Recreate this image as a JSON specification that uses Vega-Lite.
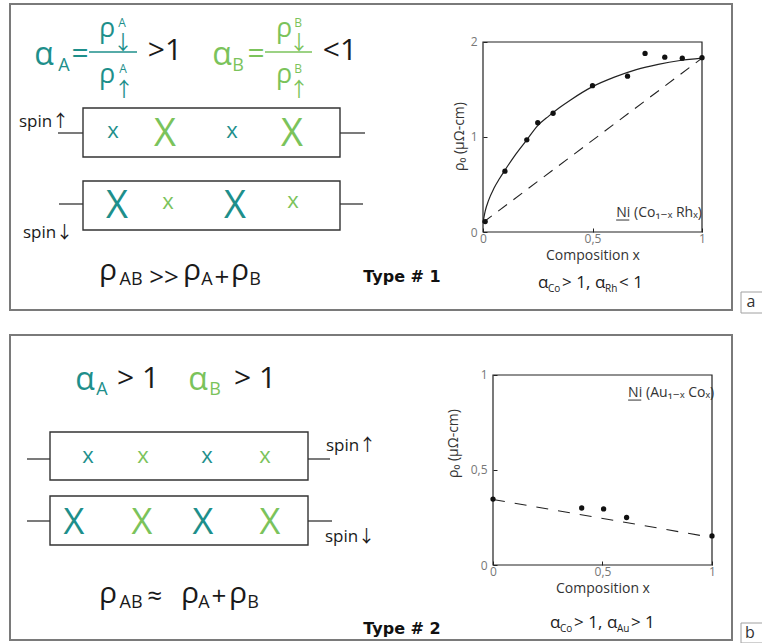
{
  "$schema": "https://vega.github.io/schema/vega-lite/v6.json",
  "padding": 0,
  "background": "white",
  "columns": 2,
  "spacing": 0,
  "bounds": "flush",
  "align": "none",
  "config": {"font": "Open Sans, Liberation Sans, DejaVu Sans", "view": {"stroke": null}},
  "datasets": {
    "sa_rect": [
      {"x": 10, "x2": 732, "y": 4, "y2": 310, "role": "border"},
      {"x": 83, "x2": 340, "y": 108, "y2": 157, "role": "box"},
      {"x": 83, "x2": 340, "y": 181, "y2": 230, "role": "box"},
      {"x": 741, "x2": 772, "y": 292, "y2": 313, "role": "tag"}
    ],
    "sa_rule": [
      {"x": 58, "x2": 83, "y": 133, "role": "lead", "sp": "none"},
      {"x": 340, "x2": 365, "y": 133, "role": "lead", "sp": "none"},
      {"x": 59, "x2": 83, "y": 204, "role": "lead", "sp": "none"},
      {"x": 340, "x2": 363, "y": 204, "role": "lead", "sp": "none"},
      {"x": 89, "x2": 137, "y": 52, "role": "bar", "sp": "A"},
      {"x": 265, "x2": 312, "y": 52, "role": "bar", "sp": "B"}
    ],
    "sa_text": [
      {"x": 44, "y": 65, "t": "α", "role": "alpha", "sp": "A"},
      {"x": 64, "y": 71, "t": "A", "role": "sub", "sp": "A"},
      {"x": 80, "y": 63, "t": "=", "role": "rel", "sp": "A"},
      {"x": 107, "y": 37, "t": "ρ", "role": "rho", "sp": "A"},
      {"x": 122, "y": 27, "t": "A", "role": "sup", "sp": "A"},
      {"x": 123, "y": 50, "t": "↓", "role": "arrow", "sp": "A"},
      {"x": 107, "y": 83, "t": "ρ", "role": "rho", "sp": "A"},
      {"x": 123, "y": 73, "t": "A", "role": "sup", "sp": "A"},
      {"x": 124, "y": 97, "t": "↑", "role": "arrow", "sp": "A"},
      {"x": 165, "y": 60, "t": ">1", "role": "rel", "sp": "none"},
      {"x": 222, "y": 65, "t": "α", "role": "alpha", "sp": "B"},
      {"x": 238, "y": 71, "t": "B", "role": "sub", "sp": "B"},
      {"x": 256, "y": 63, "t": "=", "role": "rel", "sp": "B"},
      {"x": 284, "y": 37, "t": "ρ", "role": "rho", "sp": "B"},
      {"x": 298, "y": 27, "t": "B", "role": "sup", "sp": "B"},
      {"x": 299, "y": 50, "t": "↓", "role": "arrow", "sp": "B"},
      {"x": 284, "y": 83, "t": "ρ", "role": "rho", "sp": "B"},
      {"x": 298, "y": 73, "t": "B", "role": "sup", "sp": "B"},
      {"x": 299, "y": 97, "t": "↑", "role": "arrow", "sp": "B"},
      {"x": 340, "y": 60, "t": "<1", "role": "rel", "sp": "none"},
      {"x": 44, "y": 127, "t": "spin↑", "role": "spin", "sp": "none"},
      {"x": 48, "y": 238, "t": "spin↓", "role": "spin", "sp": "none"},
      {"x": 113, "y": 138, "t": "x", "role": "small", "sp": "A"},
      {"x": 165, "y": 146, "t": "X", "role": "large", "sp": "B"},
      {"x": 232, "y": 138, "t": "x", "role": "small", "sp": "A"},
      {"x": 292, "y": 146, "t": "X", "role": "large", "sp": "B"},
      {"x": 117, "y": 218, "t": "X", "role": "large", "sp": "A"},
      {"x": 168, "y": 209, "t": "x", "role": "small", "sp": "B"},
      {"x": 235, "y": 218, "t": "X", "role": "large", "sp": "A"},
      {"x": 293, "y": 208, "t": "x", "role": "small", "sp": "B"},
      {"x": 108, "y": 280, "t": "ρ", "role": "rho2", "sp": "none"},
      {"x": 131, "y": 285, "t": "AB", "role": "sub", "sp": "none"},
      {"x": 164, "y": 286, "t": ">>", "role": "op", "sp": "none"},
      {"x": 192, "y": 280, "t": "ρ", "role": "rho2", "sp": "none"},
      {"x": 207, "y": 285, "t": "A", "role": "sub", "sp": "none"},
      {"x": 222, "y": 286, "t": "+", "role": "op", "sp": "none"},
      {"x": 240, "y": 280, "t": "ρ", "role": "rho2", "sp": "none"},
      {"x": 255, "y": 285, "t": "B", "role": "sub", "sp": "none"},
      {"x": 751, "y": 307, "t": "a", "role": "tag", "sp": "none"},
      {"x": 402, "y": 282, "t": "Type # 1", "role": "type", "sp": "none"}
    ],
    "sb_rect": [
      {"x": 10, "x2": 732, "y": 335, "y2": 640, "role": "border"},
      {"x": 50, "x2": 308, "y": 432, "y2": 480, "role": "box"},
      {"x": 50, "x2": 308, "y": 496, "y2": 545, "role": "box"},
      {"x": 741, "x2": 772, "y": 623, "y2": 643, "role": "tag"}
    ],
    "sb_rule": [
      {"x": 27, "x2": 50, "y": 459, "role": "lead", "sp": "none"},
      {"x": 308, "x2": 330, "y": 459, "role": "lead", "sp": "none"},
      {"x": 27, "x2": 50, "y": 521, "role": "lead", "sp": "none"},
      {"x": 308, "x2": 332, "y": 521, "role": "lead", "sp": "none"}
    ],
    "sb_text": [
      {"x": 85, "y": 390, "t": "α", "role": "alpha", "sp": "A"},
      {"x": 102, "y": 395, "t": "A", "role": "sub", "sp": "A"},
      {"x": 138, "y": 388, "t": "> 1", "role": "rel", "sp": "none"},
      {"x": 198, "y": 390, "t": "α", "role": "alpha", "sp": "B"},
      {"x": 215, "y": 395, "t": "B", "role": "sub", "sp": "B"},
      {"x": 255, "y": 388, "t": "> 1", "role": "rel", "sp": "none"},
      {"x": 351, "y": 451, "t": "spin↑", "role": "spin", "sp": "none"},
      {"x": 350, "y": 542, "t": "spin↓", "role": "spin", "sp": "none"},
      {"x": 88, "y": 463, "t": "x", "role": "small", "sp": "A"},
      {"x": 143, "y": 463, "t": "x", "role": "small", "sp": "B"},
      {"x": 207, "y": 463, "t": "x", "role": "small", "sp": "A"},
      {"x": 265, "y": 463, "t": "x", "role": "small", "sp": "B"},
      {"x": 74, "y": 534, "t": "X", "role": "large", "sp": "A"},
      {"x": 142, "y": 534, "t": "X", "role": "large", "sp": "B"},
      {"x": 203, "y": 534, "t": "X", "role": "large", "sp": "A"},
      {"x": 270, "y": 534, "t": "X", "role": "large", "sp": "B"},
      {"x": 108, "y": 603, "t": "ρ", "role": "rho2", "sp": "none"},
      {"x": 131, "y": 608, "t": "AB", "role": "sub", "sp": "none"},
      {"x": 155, "y": 605, "t": "≈", "role": "op", "sp": "none"},
      {"x": 190, "y": 603, "t": "ρ", "role": "rho2", "sp": "none"},
      {"x": 204, "y": 608, "t": "A", "role": "sub", "sp": "none"},
      {"x": 219, "y": 605, "t": "+", "role": "op", "sp": "none"},
      {"x": 238, "y": 603, "t": "ρ", "role": "rho2", "sp": "none"},
      {"x": 253, "y": 608, "t": "B", "role": "sub", "sp": "none"},
      {"x": 750, "y": 638, "t": "b", "role": "tag", "sp": "none"},
      {"x": 402, "y": 634, "t": "Type # 2", "role": "type", "sp": "none"}
    ],
    "ca_pts": [
      {"x": 0.01, "y": 0.11}, {"x": 0.1, "y": 0.64}, {"x": 0.2, "y": 0.97},
      {"x": 0.25, "y": 1.15}, {"x": 0.32, "y": 1.25}, {"x": 0.5, "y": 1.54},
      {"x": 0.66, "y": 1.64}, {"x": 0.74, "y": 1.88}, {"x": 0.83, "y": 1.84},
      {"x": 0.91, "y": 1.83}, {"x": 1.0, "y": 1.835}
    ],
    "ca_fit": [
      {"x": 0, "y": 0.1}, {"x": 0.01, "y": 0.22}, {"x": 0.025, "y": 0.33},
      {"x": 0.05, "y": 0.46}, {"x": 0.075, "y": 0.56}, {"x": 0.1, "y": 0.65},
      {"x": 0.15, "y": 0.82}, {"x": 0.2, "y": 0.97}, {"x": 0.25, "y": 1.12},
      {"x": 0.3, "y": 1.22}, {"x": 0.35, "y": 1.31}, {"x": 0.4, "y": 1.39},
      {"x": 0.5, "y": 1.53}, {"x": 0.6, "y": 1.63}, {"x": 0.7, "y": 1.71},
      {"x": 0.8, "y": 1.765}, {"x": 0.9, "y": 1.805}, {"x": 1.0, "y": 1.83}
    ],
    "ca_ref": [{"x": 0, "y": 0.1}, {"x": 1, "y": 1.83}],
    "ca_frame": [{"x": 0, "x2": 1, "y": 0, "y2": 2}],
    "ca_ul": [{"x": 0.608, "x2": 0.668, "y": 0.126}],
    "ca_text": [
      {"x": 0.608, "y": 0.158, "t": "Ni", "role": "ann"},
      {"x": 0.69, "y": 0.158, "t": "(Co₁₋ₓ Rhₓ)", "role": "ann"},
      {"x": 0.251, "y": -0.589, "t": "α", "role": "cond"},
      {"x": 0.297, "y": -0.632, "t": "Co", "role": "csub"},
      {"x": 0.361, "y": -0.589, "t": "> 1,", "role": "cond"},
      {"x": 0.511, "y": -0.589, "t": "α", "role": "cond"},
      {"x": 0.557, "y": -0.632, "t": "Rh", "role": "csub"},
      {"x": 0.621, "y": -0.589, "t": "< 1", "role": "cond"}
    ],
    "cb_pts": [
      {"x": 0.0, "y": 0.347}, {"x": 0.405, "y": 0.30}, {"x": 0.505, "y": 0.295},
      {"x": 0.61, "y": 0.25}, {"x": 1.0, "y": 0.153}
    ],
    "cb_ref": [{"x": 0, "y": 0.345}, {"x": 1, "y": 0.145}],
    "cb_frame": [{"x": 0, "x2": 1, "y": 0, "y2": 1}],
    "cb_ul": [{"x": 0.617, "x2": 0.677, "y": 0.868}],
    "cb_text": [
      {"x": 0.617, "y": 0.884, "t": "Ni", "role": "ann"},
      {"x": 0.699, "y": 0.884, "t": "(Au₁₋ₓ Coₓ)", "role": "ann"},
      {"x": 0.26, "y": -0.332, "t": "α", "role": "cond"},
      {"x": 0.306, "y": -0.353, "t": "Co", "role": "csub"},
      {"x": 0.37, "y": -0.332, "t": "> 1,", "role": "cond"},
      {"x": 0.521, "y": -0.332, "t": "α", "role": "cond"},
      {"x": 0.566, "y": -0.353, "t": "Au", "role": "csub"},
      {"x": 0.63, "y": -0.332, "t": "> 1", "role": "cond"}
    ]
  },
  "concat": [
    {
      "width": 483,
      "height": 322,
      "encoding": {
        "x": {"field": "x", "type": "quantitative", "scale": {"domain": [0, 483], "nice": false, "zero": false}, "axis": null},
        "y": {"field": "y", "type": "quantitative", "scale": {"domain": [0, 322], "nice": false, "zero": false, "reverse": true}, "axis": null},
        "color": {"field": "sp", "type": "nominal", "scale": {"domain": ["A", "B", "none"], "range": ["#1e8f8b", "#7bc35b", "#1a1a1a"]}, "legend": null}
      },
      "layer": [
        {"data": {"name": "sa_rect"}, "transform": [{"filter": "datum.role == 'border'"}], "mark": {"type": "rect", "filled": false, "strokeWidth": 2}, "encoding": {"x2": {"field": "x2"}, "y2": {"field": "y2"}, "color": {"value": "#7a7a7a"}}},
        {"data": {"name": "sa_rect"}, "transform": [{"filter": "datum.role == 'box'"}], "mark": {"type": "rect", "filled": false, "strokeWidth": 1.4}, "encoding": {"x2": {"field": "x2"}, "y2": {"field": "y2"}, "color": {"value": "#333333"}}},
        {"data": {"name": "sa_rect"}, "transform": [{"filter": "datum.role == 'tag'"}], "mark": {"type": "rect", "filled": false, "strokeWidth": 1}, "encoding": {"x2": {"field": "x2"}, "y2": {"field": "y2"}, "color": {"value": "#a0a0a0"}}},
        {"data": {"name": "sa_rule"}, "transform": [{"filter": "datum.role == 'lead'"}], "mark": {"type": "rule", "strokeWidth": 1.3}, "encoding": {"x2": {"field": "x2"}, "color": {"value": "#333333"}}},
        {"data": {"name": "sa_rule"}, "transform": [{"filter": "datum.role == 'bar'"}], "mark": {"type": "rule", "strokeWidth": 1.6}, "encoding": {"x2": {"field": "x2"}}},
        {"data": {"name": "sa_text"}, "transform": [{"filter": "datum.role == 'alpha'"}], "mark": {"type": "text", "align": "center", "baseline": "alphabetic", "fontSize": 32}, "encoding": {"text": {"field": "t"}}},
        {"data": {"name": "sa_text"}, "transform": [{"filter": "datum.role == 'sub'"}], "mark": {"type": "text", "align": "center", "baseline": "alphabetic", "fontSize": 18}, "encoding": {"text": {"field": "t"}}},
        {"data": {"name": "sa_text"}, "transform": [{"filter": "datum.role == 'rel' || datum.role == 'rho2'"}], "mark": {"type": "text", "align": "center", "baseline": "alphabetic", "fontSize": 30}, "encoding": {"text": {"field": "t"}}},
        {"data": {"name": "sa_text"}, "transform": [{"filter": "datum.role == 'rho'"}], "mark": {"type": "text", "align": "center", "baseline": "alphabetic", "fontSize": 27}, "encoding": {"text": {"field": "t"}}},
        {"data": {"name": "sa_text"}, "transform": [{"filter": "datum.role == 'sup'"}], "mark": {"type": "text", "align": "center", "baseline": "alphabetic", "fontSize": 12}, "encoding": {"text": {"field": "t"}}},
        {"data": {"name": "sa_text"}, "transform": [{"filter": "datum.role == 'arrow'"}], "mark": {"type": "text", "align": "center", "baseline": "alphabetic", "fontSize": 20, "font": "Noto Sans CJK JP, DejaVu Sans"}, "encoding": {"text": {"field": "t"}}},
        {"data": {"name": "sa_text"}, "transform": [{"filter": "datum.role == 'small'"}], "mark": {"type": "text", "align": "center", "baseline": "alphabetic", "fontSize": 22}, "encoding": {"text": {"field": "t"}}},
        {"data": {"name": "sa_text"}, "transform": [{"filter": "datum.role == 'large'"}], "mark": {"type": "text", "align": "center", "baseline": "alphabetic", "fontSize": 38}, "encoding": {"text": {"field": "t"}}},
        {"data": {"name": "sa_text"}, "transform": [{"filter": "datum.role == 'spin'"}], "mark": {"type": "text", "align": "center", "baseline": "alphabetic", "fontSize": 17, "font": "Open Sans, Noto Sans CJK JP"}, "encoding": {"text": {"field": "t"}}},
        {"data": {"name": "sa_text"}, "transform": [{"filter": "datum.role == 'op'"}], "mark": {"type": "text", "align": "center", "baseline": "alphabetic", "fontSize": 26}, "encoding": {"text": {"field": "t"}}},
        {"data": {"name": "sa_text"}, "transform": [{"filter": "datum.role == 'tag'"}], "mark": {"type": "text", "align": "center", "baseline": "alphabetic", "fontSize": 16}, "encoding": {"text": {"field": "t"}, "color": {"value": "#333333"}}},
        {"data": {"name": "sa_text"}, "transform": [{"filter": "datum.role == 'type'"}], "mark": {"type": "text", "align": "center", "baseline": "alphabetic", "fontSize": 16, "fontWeight": "bold", "font": "DejaVu Sans"}, "encoding": {"text": {"field": "t"}, "color": {"value": "#111111"}}}
      ]
    },
    {
      "width": 219,
      "height": 232,
      "encoding": {
        "x": {"field": "x", "type": "quantitative", "scale": {"domain": [0, 1], "nice": false, "zero": false},
          "axis": {"values": [0, 0.5, 1], "format": "~g", "labelExpr": "replace(datum.label, '.', ',')", "domain": false, "grid": false, "tickSize": -4, "tickColor": "#222222", "labelFlush": false, "labelPadding": 5, "labelFontSize": 12, "labelColor": "#777777", "title": "Composition x", "titleFontSize": 14, "titleFontWeight": "normal", "titleColor": "#333333", "titlePadding": 4}},
        "y": {"field": "y", "type": "quantitative", "scale": {"domain": [0, 2.4421], "nice": false, "zero": false},
          "axis": {"values": [0, 1, 2], "format": "~g", "labelExpr": "replace(datum.label, '.', ',')", "domain": false, "grid": false, "tickSize": -4, "tickColor": "#222222", "labelPadding": 10, "labelFontSize": 12, "labelColor": "#777777", "title": "ρ₀ (μΩ-cm)", "titleFontSize": 14, "titleFontWeight": "normal", "titleColor": "#333333", "titlePadding": 4, "titleY": 136}}
      },
      "layer": [
        {"data": {"name": "ca_frame"}, "mark": {"type": "rect", "filled": false, "strokeWidth": 1.2}, "encoding": {"x2": {"field": "x2"}, "y2": {"field": "y2"}, "color": {"value": "#222222"}}},
        {"data": {"name": "ca_ref"}, "mark": {"type": "line", "strokeWidth": 1.1, "strokeDash": [11, 8], "color": "#222222"}, "encoding": {}},
        {"data": {"name": "ca_fit"}, "mark": {"type": "line", "strokeWidth": 1.2, "interpolate": "monotone", "color": "#222222"}, "encoding": {}},
        {"data": {"name": "ca_pts"}, "mark": {"type": "circle", "size": 28, "opacity": 1, "color": "#111111"}, "encoding": {}},
        {"data": {"name": "ca_ul"}, "mark": {"type": "rule", "strokeWidth": 1, "color": "#333333"}, "encoding": {"x2": {"field": "x2"}}},
        {"data": {"name": "ca_text"}, "transform": [{"filter": "datum.role == 'ann'"}], "mark": {"type": "text", "align": "left", "baseline": "alphabetic", "fontSize": 14, "color": "#333333"}, "encoding": {"text": {"field": "t"}}},
        {"data": {"name": "ca_text"}, "transform": [{"filter": "datum.role == 'cond'"}], "mark": {"type": "text", "align": "left", "baseline": "alphabetic", "fontSize": 17, "color": "#222222"}, "encoding": {"text": {"field": "t"}}},
        {"data": {"name": "ca_text"}, "transform": [{"filter": "datum.role == 'csub'"}], "mark": {"type": "text", "align": "left", "baseline": "alphabetic", "fontSize": 10, "color": "#222222"}, "encoding": {"text": {"field": "t"}}}
      ]
    },
    {
      "width": 483,
      "height": 321,
      "encoding": {
        "x": {"field": "x", "type": "quantitative", "scale": {"domain": [0, 483], "nice": false, "zero": false}, "axis": null},
        "y": {"field": "y", "type": "quantitative", "scale": {"domain": [322, 643], "nice": false, "zero": false, "reverse": true}, "axis": null},
        "color": {"field": "sp", "type": "nominal", "scale": {"domain": ["A", "B", "none"], "range": ["#1e8f8b", "#7bc35b", "#1a1a1a"]}, "legend": null}
      },
      "layer": [
        {"data": {"name": "sb_rect"}, "transform": [{"filter": "datum.role == 'border'"}], "mark": {"type": "rect", "filled": false, "strokeWidth": 2}, "encoding": {"x2": {"field": "x2"}, "y2": {"field": "y2"}, "color": {"value": "#7a7a7a"}}},
        {"data": {"name": "sb_rect"}, "transform": [{"filter": "datum.role == 'box'"}], "mark": {"type": "rect", "filled": false, "strokeWidth": 1.4}, "encoding": {"x2": {"field": "x2"}, "y2": {"field": "y2"}, "color": {"value": "#333333"}}},
        {"data": {"name": "sb_rect"}, "transform": [{"filter": "datum.role == 'tag'"}], "mark": {"type": "rect", "filled": false, "strokeWidth": 1}, "encoding": {"x2": {"field": "x2"}, "y2": {"field": "y2"}, "color": {"value": "#a0a0a0"}}},
        {"data": {"name": "sb_rule"}, "mark": {"type": "rule", "strokeWidth": 1.3}, "encoding": {"x2": {"field": "x2"}, "color": {"value": "#333333"}}},
        {"data": {"name": "sb_text"}, "transform": [{"filter": "datum.role == 'alpha'"}], "mark": {"type": "text", "align": "center", "baseline": "alphabetic", "fontSize": 32}, "encoding": {"text": {"field": "t"}}},
        {"data": {"name": "sb_text"}, "transform": [{"filter": "datum.role == 'sub'"}], "mark": {"type": "text", "align": "center", "baseline": "alphabetic", "fontSize": 18}, "encoding": {"text": {"field": "t"}}},
        {"data": {"name": "sb_text"}, "transform": [{"filter": "datum.role == 'rel' || datum.role == 'rho2'"}], "mark": {"type": "text", "align": "center", "baseline": "alphabetic", "fontSize": 30}, "encoding": {"text": {"field": "t"}}},
        {"data": {"name": "sb_text"}, "transform": [{"filter": "datum.role == 'small'"}], "mark": {"type": "text", "align": "center", "baseline": "alphabetic", "fontSize": 22}, "encoding": {"text": {"field": "t"}}},
        {"data": {"name": "sb_text"}, "transform": [{"filter": "datum.role == 'large'"}], "mark": {"type": "text", "align": "center", "baseline": "alphabetic", "fontSize": 36}, "encoding": {"text": {"field": "t"}}},
        {"data": {"name": "sb_text"}, "transform": [{"filter": "datum.role == 'spin'"}], "mark": {"type": "text", "align": "center", "baseline": "alphabetic", "fontSize": 17, "font": "Open Sans, Noto Sans CJK JP"}, "encoding": {"text": {"field": "t"}}},
        {"data": {"name": "sb_text"}, "transform": [{"filter": "datum.role == 'op'"}], "mark": {"type": "text", "align": "center", "baseline": "alphabetic", "fontSize": 26}, "encoding": {"text": {"field": "t"}}},
        {"data": {"name": "sb_text"}, "transform": [{"filter": "datum.role == 'tag'"}], "mark": {"type": "text", "align": "center", "baseline": "alphabetic", "fontSize": 16}, "encoding": {"text": {"field": "t"}, "color": {"value": "#333333"}}},
        {"data": {"name": "sb_text"}, "transform": [{"filter": "datum.role == 'type'"}], "mark": {"type": "text", "align": "center", "baseline": "alphabetic", "fontSize": 16, "fontWeight": "bold", "font": "DejaVu Sans"}, "encoding": {"text": {"field": "t"}, "color": {"value": "#111111"}}}
      ]
    },
    {
      "width": 229,
      "height": 243,
      "encoding": {
        "x": {"field": "x", "type": "quantitative", "scale": {"domain": [-0.04566, 1], "nice": false, "zero": false},
          "axis": {"values": [0, 0.5, 1], "format": "~g", "labelExpr": "replace(datum.label, '.', ',')", "domain": false, "grid": false, "tickSize": -4, "tickColor": "#222222", "labelFlush": false, "labelPadding": 5, "labelFontSize": 12, "labelColor": "#777777", "title": "Composition x", "titleFontSize": 14, "titleFontWeight": "normal", "titleColor": "#333333", "titlePadding": 4, "titleX": 119.5}},
        "y": {"field": "y", "type": "quantitative", "scale": {"domain": [0, 1.2789], "nice": false, "zero": false},
          "axis": {"values": [0, 0.5, 1], "format": "~g", "labelExpr": "replace(datum.label, '.', ',')", "domain": false, "grid": false, "offset": -10, "tickSize": -4, "tickColor": "#222222", "labelPadding": 10, "labelFontSize": 12, "labelColor": "#777777", "title": "ρ₀ (μΩ-cm)", "titleFontSize": 14, "titleFontWeight": "normal", "titleColor": "#333333", "titlePadding": 10, "titleY": 121}}
      },
      "layer": [
        {"data": {"name": "cb_frame"}, "mark": {"type": "rect", "filled": false, "strokeWidth": 1.2}, "encoding": {"x2": {"field": "x2"}, "y2": {"field": "y2"}, "color": {"value": "#222222"}}},
        {"data": {"name": "cb_ref"}, "mark": {"type": "line", "strokeWidth": 1.1, "strokeDash": [12, 10], "color": "#222222"}, "encoding": {}},
        {"data": {"name": "cb_pts"}, "mark": {"type": "circle", "size": 28, "opacity": 1, "color": "#111111"}, "encoding": {}},
        {"data": {"name": "cb_ul"}, "mark": {"type": "rule", "strokeWidth": 1, "color": "#333333"}, "encoding": {"x2": {"field": "x2"}}},
        {"data": {"name": "cb_text"}, "transform": [{"filter": "datum.role == 'ann'"}], "mark": {"type": "text", "align": "left", "baseline": "alphabetic", "fontSize": 14, "color": "#333333"}, "encoding": {"text": {"field": "t"}}},
        {"data": {"name": "cb_text"}, "transform": [{"filter": "datum.role == 'cond'"}], "mark": {"type": "text", "align": "left", "baseline": "alphabetic", "fontSize": 17, "color": "#222222"}, "encoding": {"text": {"field": "t"}}},
        {"data": {"name": "cb_text"}, "transform": [{"filter": "datum.role == 'csub'"}], "mark": {"type": "text", "align": "left", "baseline": "alphabetic", "fontSize": 10, "color": "#222222"}, "encoding": {"text": {"field": "t"}}}
      ]
    }
  ]
}
